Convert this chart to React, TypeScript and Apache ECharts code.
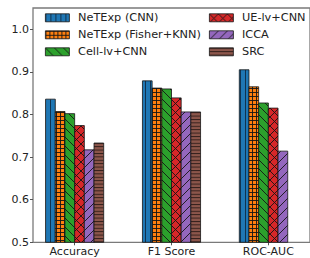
import React, { useEffect, useRef } from "react";
import * as echarts from "echarts";

const categories = ["Accuracy", "F1 Score", "ROC-AUC"];
const seriesNames = [
  "NeTExp (CNN)",
  "NeTExp (Fisher+KNN)",
  "Cell-lv+CNN",
  "UE-lv+CNN",
  "ICCA",
  "SRC",
];
const netexpCnn = [0.836, 0.879, 0.905];
const netexpFisherKnn = [0.807, 0.862, 0.865];
const cellLvCnn = [0.802, 0.86, 0.827];
const ueLvCnn = [0.774, 0.839, 0.815];
const icca = [0.717, 0.806, 0.714];
const src = [0.733, 0.806, null];
const yTicks = [0.5, 0.6, 0.7, 0.8, 0.9, 1.0];

const allValues = [netexpCnn, netexpFisherKnn, cellLvCnn, ueLvCnn, icca, src];

const colors = ["#1f77b4", "#ff7f0e", "#2ca02c", "#d62728", "#9467bd", "#8c564b"];

function svgUrl(w: number, h: number, inner: string) {
  const svg = `<svg xmlns="http://www.w3.org/2000/svg" width="${w}" height="${h}" viewBox="0 0 ${w} ${h}">${inner}</svg>`;
  return "data:image/svg+xml;charset=utf-8," + encodeURIComponent(svg);
}

function makePattern(i: number) {
  const c = colors[i];
  const st = `stroke="#151515" stroke-width="0.9" fill="none"`;
  let w = 9, h = 9, inner = "";
  if (i === 0) {
    w = 5; h = 5;
    inner = `<rect width="5" height="5" fill="${c}"/><path d="M0.5 0 V5" stroke="#0e2a44" stroke-width="0.9" fill="none"/>`;
  } else if (i === 1) {
    w = 4; h = 4;
    inner = `<rect width="4" height="4" fill="${c}"/><path d="M0.5 0 V4 M0 0.5 H4" ${st}/>`;
  } else if (i === 2) {
    inner = `<rect width="9" height="9" fill="${c}"/><path d="M0 0 L9 9 M-1 8 L1 10 M8 -1 L10 1" ${st}/>`;
  } else if (i === 3) {
    inner = `<rect width="9" height="9" fill="${c}"/><path d="M0 0 L9 9 M-1 8 L1 10 M8 -1 L10 1 M0 9 L9 0 M-1 1 L1 -1 M8 10 L10 8" ${st}/>`;
  } else if (i === 4) {
    inner = `<rect width="9" height="9" fill="${c}"/><path d="M0 9 L9 0 M-1 1 L1 -1 M8 10 L10 8" ${st}/>`;
  } else {
    w = 4; h = 3.4;
    inner = `<rect width="4" height="3.4" fill="${c}"/><path d="M0 0.5 H4" stroke="#2a1a16" stroke-width="0.9" fill="none"/>`;
  }
  return { image: svgUrl(w, h, inner), repeat: "repeat", imageWidth: w, imageHeight: h };
}

export default function App() {
  const ref = useRef<HTMLDivElement>(null);
  useEffect(() => {
    if (!ref.current) return;
    const chart = echarts.init(ref.current, null, { renderer: "svg" });
    const patterns = seriesNames.map((_, i) => makePattern(i));
    const barW = 0.1;
    const font = "DejaVu Sans";
    const series = seriesNames.map((name, i) => {
      const offset = (i - 2.5) * barW;
      const data = allValues[i]
        .map((v, g) => (v == null ? null : [g, v]))
        .filter((d) => d != null);
      return {
        type: "custom",
        name,
        data,
        itemStyle: { color: patterns[i], borderColor: "#151515", borderWidth: 0.8 },
        renderItem: (params: any, api: any) => {
          const g = api.value(0);
          const v = api.value(1);
          if (v == null || isNaN(v)) return null;
          const x = g + offset;
          const p0 = api.coord([x - barW / 2, v]);
          const p1 = api.coord([x + barW / 2, 0.5]);
          return {
            type: "rect",
            shape: { x: p0[0], y: p0[1], width: p1[0] - p0[0], height: p1[1] - p0[1] },
            style: { fill: patterns[i], stroke: "#151515", lineWidth: 0.8 },
          };
        },
      };
    });
    const legendCommon = {
      orient: "vertical",
      icon: "rect",
      itemWidth: 24,
      itemHeight: 8,
      itemGap: 4,
      padding: 0,
      selectedMode: false,
      formatter: (name: string) => " " + name,
      textStyle: {
        fontFamily: font,
        fontSize: 11.3,
        color: "#222",
        lineHeight: 13,
      },
    };
    const legendData = (idx: number[]) =>
      idx.map((i) => ({
        name: seriesNames[i],
        itemStyle: { color: patterns[i], borderColor: "#151515", borderWidth: 0.8 },
      }));
    chart.setOption({
      animation: false,
      backgroundColor: "#fff",
      textStyle: { fontFamily: font },
      grid: {
        left: 33,
        top: 8,
        width: 279.3,
        height: 234.3,
        show: true,
        borderColor: "#7a7a7a",
        borderWidth: 1.3,
        backgroundColor: "transparent",
        containLabel: false,
      },
      legend: [
        { ...legendCommon, left: 45, top: 11.3, data: legendData([0, 1, 2]) },
        { ...legendCommon, left: 209, top: 11.3, data: legendData([3, 4, 5]) },
      ],
      xAxis: {
        type: "value",
        min: -0.43,
        max: 2.43,
        axisLine: { show: false, onZero: false },
        splitLine: { show: false },
        axisTick: {
          show: true,
          customValues: [0, 1, 2],
          length: 3,
          lineStyle: { color: "#555", width: 1 },
        },
        axisLabel: {
          customValues: [0, 1, 2],
          formatter: (v: number) => categories[Math.round(v)] ?? "",
          fontFamily: font,
          fontSize: 11,
          color: "#222",
          margin: 4,
        },
      },
      yAxis: {
        type: "value",
        min: 0.5,
        max: 1.05,
        axisLine: { show: false, onZero: false },
        splitLine: { show: false },
        axisTick: {
          show: true,
          customValues: yTicks,
          length: 3,
          lineStyle: { color: "#555", width: 1 },
        },
        axisLabel: {
          customValues: yTicks,
          formatter: (v: number) => v.toFixed(1),
          fontFamily: font,
          fontSize: 11,
          color: "#222",
          margin: 4,
        },
      },
      series,
    });
    return () => chart.dispose();
  }, []);
  return <div ref={ref} style={{ width: 310, height: 258, position: "absolute", left: 0, top: 0 }} />;
}
